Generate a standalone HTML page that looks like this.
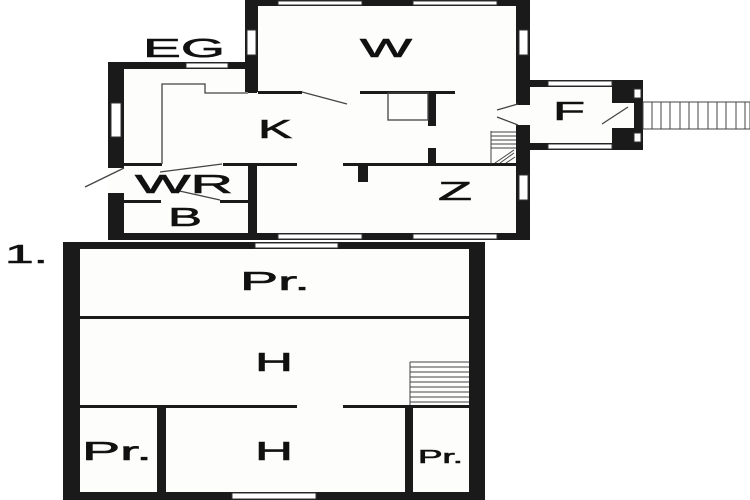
<!DOCTYPE html>
<html><head><style>html,body{margin:0;padding:0;background:#fff}svg{display:block}text{font-family:"Liberation Sans",sans-serif;fill:#111;stroke:#111;stroke-width:0.6}</style></head><body>
<svg width="750" height="500" viewBox="0 0 750 500">
<rect width="750" height="500" fill="#fff"/>
<rect x="245" y="0" width="285" height="240" fill="#fdfdfb"/>
<rect x="108" y="62" width="150" height="178" fill="#fdfdfb"/>
<rect x="517" y="80" width="126" height="70" fill="#fdfdfb"/>
<rect x="63" y="242" width="422" height="258" fill="#fdfdfb"/>
<g fill="#1a1a1a">
<rect x="245" y="0" width="285" height="6"/>
<rect x="245" y="0" width="13" height="92"/>
<rect x="516" y="0" width="14" height="105"/>
<rect x="516" y="125" width="14" height="115"/>
<rect x="108" y="62" width="150" height="7"/>
<rect x="108" y="62" width="16" height="106"/>
<rect x="108" y="193" width="16" height="47"/>
<rect x="108" y="233" width="422" height="7"/>
<rect x="248" y="62" width="9" height="31"/>
<rect x="248" y="164" width="9" height="76"/>
<rect x="258" y="91" width="44" height="3"/>
<rect x="360" y="91" width="95" height="3"/>
<rect x="428" y="91" width="8" height="35"/>
<rect x="428" y="148" width="8" height="17"/>
<rect x="360" y="163" width="157" height="3"/>
<rect x="124" y="163" width="38" height="3"/>
<rect x="223" y="163" width="74" height="3"/>
<rect x="343" y="163" width="37" height="3"/>
<rect x="358" y="163" width="10" height="19"/>
<rect x="124" y="200" width="37" height="3"/>
<rect x="220" y="200" width="28" height="3"/>
<rect x="517" y="80" width="126" height="7"/>
<rect x="517" y="143" width="126" height="7"/>
<rect x="612" y="80" width="31" height="70"/>
<rect x="63" y="242" width="422" height="7"/>
<rect x="63" y="242" width="17" height="258"/>
<rect x="469" y="242" width="16" height="258"/>
<rect x="63" y="492" width="422" height="8"/>
<rect x="80" y="316" width="389" height="3"/>
<rect x="80" y="405" width="217" height="3"/>
<rect x="343" y="405" width="126" height="3"/>
<rect x="157" y="405" width="9" height="87"/>
<rect x="405" y="405" width="8" height="87"/>
</g>
<g fill="#fff" stroke="#333" stroke-width="1">
<rect x="278" y="1" width="84" height="4"/>
<rect x="413" y="1" width="84" height="4"/>
<rect x="247" y="30" width="9" height="25"/>
<rect x="519" y="30" width="9" height="25"/>
<rect x="186" y="63" width="42" height="5"/>
<rect x="111" y="103" width="10" height="34"/>
<rect x="278" y="234" width="84" height="5"/>
<rect x="413" y="234" width="84" height="5"/>
<rect x="519" y="175" width="9" height="25"/>
<rect x="548" y="81" width="64" height="5"/>
<rect x="548" y="144" width="64" height="5"/>
<rect x="634" y="89" width="7" height="9"/>
<rect x="634" y="133" width="7" height="9"/>
<rect x="255" y="243" width="83" height="5"/>
<rect x="232" y="493" width="84" height="6"/>
</g>
<rect x="612" y="103" width="22" height="25" fill="#fdfdfb"/>
<g stroke="#444" stroke-width="1.3" fill="none">
<polyline points="162,164 162,84 205,84 205,93 248,93"/>
<line x1="302" y1="92" x2="347" y2="104"/>
<line x1="124" y1="168" x2="85" y2="187"/>
<line x1="160" y1="172" x2="222" y2="164"/>
<line x1="175" y1="190" x2="220" y2="200"/>
<rect x="388" y="93" width="40" height="27"/>
<line x1="497" y1="110" x2="518" y2="104"/>
<line x1="497" y1="117" x2="518" y2="125"/>
<line x1="602" y1="124" x2="628" y2="107"/>
</g>
<g stroke="#444" stroke-width="1">
<rect x="643" y="102" width="107" height="27" fill="#fff"/>
<line x1="652" y1="102" x2="652" y2="129"/><line x1="661" y1="102" x2="661" y2="129"/><line x1="670" y1="102" x2="670" y2="129"/><line x1="680" y1="102" x2="680" y2="129"/><line x1="689" y1="102" x2="689" y2="129"/><line x1="698" y1="102" x2="698" y2="129"/><line x1="708" y1="102" x2="708" y2="129"/><line x1="717" y1="102" x2="717" y2="129"/><line x1="726" y1="102" x2="726" y2="129"/><line x1="736" y1="102" x2="736" y2="129"/><line x1="745" y1="102" x2="745" y2="129"/>
<line x1="491" y1="131" x2="491" y2="164"/>
<line x1="491" y1="132" x2="516" y2="132"/><line x1="491" y1="136" x2="516" y2="136"/><line x1="491" y1="140" x2="516" y2="140"/><line x1="491" y1="144" x2="516" y2="144"/><line x1="491" y1="148" x2="516" y2="148"/>
<line x1="495" y1="163" x2="514" y2="150"/><line x1="500" y1="163" x2="514" y2="153"/><line x1="506" y1="163" x2="515" y2="157"/>
<line x1="410" y1="362" x2="410" y2="405"/>
<line x1="410" y1="362" x2="469" y2="362"/><line x1="410" y1="367" x2="469" y2="367"/><line x1="410" y1="372" x2="469" y2="372"/><line x1="410" y1="377" x2="469" y2="377"/><line x1="410" y1="382" x2="469" y2="382"/><line x1="410" y1="387" x2="469" y2="387"/><line x1="410" y1="392" x2="469" y2="392"/><line x1="410" y1="397" x2="469" y2="397"/><line x1="410" y1="402" x2="469" y2="402"/>
</g>
<g font-size="26">
<text x="143" y="57" textLength="82" lengthAdjust="spacingAndGlyphs">EG</text>
<text x="360" y="57" textLength="52" lengthAdjust="spacingAndGlyphs">W</text>
<text x="258" y="138" textLength="34" lengthAdjust="spacingAndGlyphs">K</text>
<text x="135" y="193" textLength="98" lengthAdjust="spacingAndGlyphs">WR</text>
<text x="168" y="226" textLength="34" lengthAdjust="spacingAndGlyphs">B</text>
<text x="553" y="120" textLength="32" lengthAdjust="spacingAndGlyphs">F</text>
<text x="438" y="200" textLength="34" lengthAdjust="spacingAndGlyphs">Z</text>
<text x="5" y="263" textLength="43" lengthAdjust="spacingAndGlyphs">1.</text>
<text x="240" y="290" textLength="70" lengthAdjust="spacingAndGlyphs">Pr.</text>
<text x="255" y="371" textLength="38" lengthAdjust="spacingAndGlyphs">H</text>
<text x="82" y="460" textLength="70" lengthAdjust="spacingAndGlyphs">Pr.</text>
<text x="255" y="460" textLength="38" lengthAdjust="spacingAndGlyphs">H</text>
<text x="418" y="463" font-size="18" textLength="45" lengthAdjust="spacingAndGlyphs">Pr.</text>
</g>
</svg>
</body></html>
